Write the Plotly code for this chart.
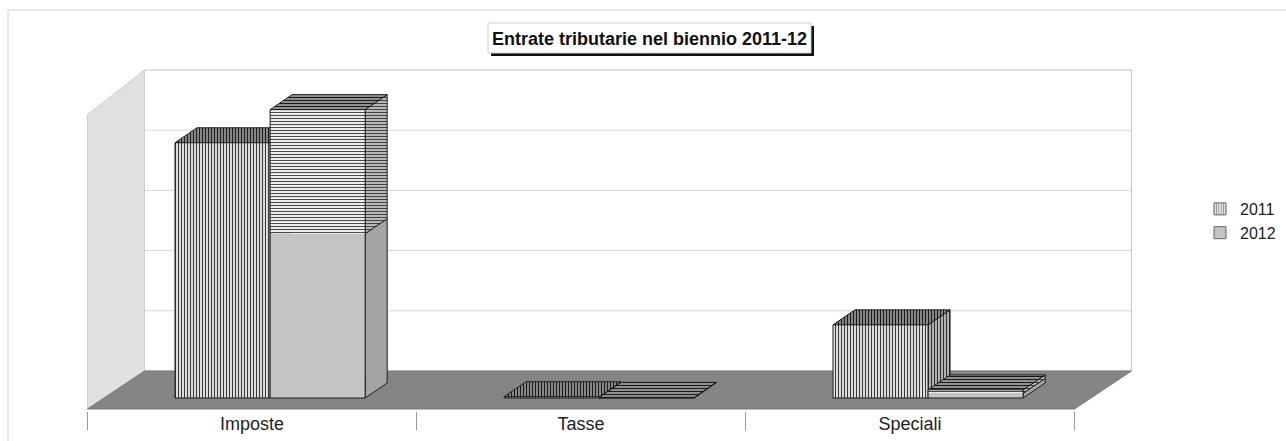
import plotly.graph_objects as go

# ---- data -------------------------------------------------------------
categories = ["Imposte", "Tasse", "Speciali"]
series_names = ["2011", "2012"]
values_2011 = [4240, 20, 1215]
values_2012 = [4790, 10, 135]

# ---- page / axes geometry ---------------------------------------------
W, H = 1286, 441
MARGIN_B = 30
PLOT_H = H - MARGIN_B
X_RANGE = [-0.766, 3.143]
Y_RANGE = [-216, 6611]
GRID_STEP = 1000

# oblique 3-D projection (in data units)
FLOOR_FRONT_Y = -183          # front edge of the floor
FLOOR_DEPTH = (0.1733, 631)   # shift from front edge to back wall
WALL_TOP_STEPS = 5            # back wall is 5 grid steps tall
BAR_W = 0.289
BAR_LEFT = [-0.234, -0.234 + 0.289]   # front-left corner offset per series
BAR_DEPTH = (0.0669, 249)
SPLIT_2012 = 0.57             # 2012 faces: plain below, ruled above

OUTLINE = "#1e1e1e"
FONT = "Liberation Sans, Arial"


def px_x(px):
    return px / W


def px_y(py):
    return (PLOT_H - py) / PLOT_H


fig = go.Figure()


def poly(xs, ys, fill, pattern=None, line=OUTLINE, lw=1):
    kw = dict(
        x=xs + [xs[0]], y=ys + [ys[0]], mode="lines", fill="toself",
        fillcolor=fill, line=dict(color=line, width=lw),
        hoverinfo="skip", showlegend=False,
    )
    if pattern is not None:
        kw["fillpattern"] = pattern
    fig.add_trace(go.Scatter(**kw))


def vlines(bg, fg="#3a3a3a", sol=0.36):
    return dict(shape="|", size=3, solidity=sol, fgcolor=fg, bgcolor=bg, fillmode="replace")


def hlines(bg, fg="#4a4a4a", sol=0.34):
    return dict(shape="-", size=3, solidity=sol, fgcolor=fg, bgcolor=bg, fillmode="replace")


# ---- walls and floor ---------------------------------------------------
fx0, fx1 = -0.5, 2.5
dxf, dyf = FLOOR_DEPTH
back_y0 = FLOOR_FRONT_Y + dyf
back_y1 = back_y0 + WALL_TOP_STEPS * GRID_STEP

shapes = []
# back wall
shapes.append(dict(type="rect", xref="x", yref="y", x0=fx0 + dxf, x1=fx1 + dxf,
                   y0=back_y0, y1=back_y1, fillcolor="white",
                   line=dict(color="#c4c4c4", width=1), layer="below"))
# gridlines on the back wall
for k in range(1, WALL_TOP_STEPS):
    gy = back_y0 + k * GRID_STEP
    shapes.append(dict(type="line", xref="x", yref="y", x0=fx0 + dxf, x1=fx1 + dxf,
                       y0=gy, y1=gy, line=dict(color="#d6d6d6", width=1), layer="below"))
# left side wall
shapes.append(dict(type="path", xref="x", yref="y",
                   path=f"M{fx0},{FLOOR_FRONT_Y} L{fx0 + dxf},{back_y0} L{fx0 + dxf},{back_y1} "
                        f"L{fx0},{back_y1 - dyf - 110} Z",
                   fillcolor="#e0e0e0", line=dict(color="#d0d0d0", width=1), layer="below"))
# floor
shapes.append(dict(type="path", xref="x", yref="y",
                   path=f"M{fx0},{FLOOR_FRONT_Y} L{fx1},{FLOOR_FRONT_Y} L{fx1 + dxf},{back_y0} "
                        f"L{fx0 + dxf},{back_y0} Z",
                   fillcolor="#858585", line=dict(color="#7a7a7a", width=1), layer="below"))

# ---- 3-D columns -------------------------------------------------------
dx, dy = BAR_DEPTH
for i, cat in enumerate(categories):
    for s, vals in enumerate([values_2011, values_2012]):
        v = vals[i]
        x0 = i + BAR_LEFT[s]
        x1 = x0 + BAR_W
        if s == 0:
            poly([x1, x1 + dx, x1 + dx, x1], [0, dy, v + dy, v], "#b0b0b0", vlines("#b4b4b4", "#333"))
            poly([x0, x1, x1 + dx, x0 + dx], [v, v, v + dy, v + dy], "#8c8c8c", vlines("#8c8c8c", "#1a1a1a"))
            poly([x0, x1, x1, x0], [0, 0, v, v], "#e2e2e2", vlines("#e4e4e4"))
        else:
            ys = v * SPLIT_2012
            # right side face
            poly([x1, x1 + dx, x1 + dx, x1], [0, dy, ys + dy, ys], "#a4a4a4")
            poly([x1, x1 + dx, x1 + dx, x1], [ys, ys + dy, v + dy, v], "#b8b8b8", hlines("#b8b8b8", "#444"))
            # top face
            poly([x0, x1, x1 + dx, x0 + dx], [v, v, v + dy, v + dy], "#909090", hlines("#909090", "#1a1a1a"))
            # front face
            poly([x0, x1, x1, x0], [0, 0, ys, ys], "#c4c4c4", lw=0)
            poly([x0, x1, x1, x0], [ys, ys, v, v], "#ececec", hlines("#ececec"), lw=0)
            poly([x0, x1, x1, x0], [0, 0, v, v], "rgba(0,0,0,0)")

# legend entries
fig.add_trace(go.Bar(x=[None], y=[None], name=series_names[0],
                     marker=dict(color="#e4e4e4", line=dict(color="#666", width=1),
                                 pattern=dict(shape="|", size=3, solidity=0.36,
                                              fgcolor="#444", bgcolor="#e4e4e4"))))
fig.add_trace(go.Bar(x=[None], y=[None], name=series_names[1],
                     marker=dict(color="#c4c4c4", line=dict(color="#666", width=1))))

# ---- chart frame and title --------------------------------------------
shapes.append(dict(type="rect", xref="paper", yref="paper",
                   x0=px_x(8), x1=px_x(1290), y0=px_y(445), y1=px_y(10),
                   line=dict(color="#d2d2d2", width=1), layer="below"))
shapes.append(dict(type="rect", xref="paper", yref="paper",
                   x0=px_x(491), x1=px_x(814), y0=px_y(56), y1=px_y(26),
                   fillcolor="#111", line=dict(width=0)))
shapes.append(dict(type="rect", xref="paper", yref="paper",
                   x0=px_x(488), x1=px_x(811), y0=px_y(53), y1=px_y(23),
                   fillcolor="white", line=dict(color="#cfcfcf", width=1)))

fig.add_annotation(text="<b>Entrate tributarie nel biennio 2011-12</b>",
                   xref="paper", yref="paper", x=px_x(649.5), y=px_y(38.5),
                   xanchor="center", yanchor="middle",
                   showarrow=False, font=dict(family=FONT, size=18, color="#111"))

fig.update_layout(
    width=W, height=H,
    margin=dict(l=0, r=0, t=0, b=MARGIN_B),
    paper_bgcolor="white", plot_bgcolor="rgba(0,0,0,0)",
    shapes=shapes,
    showlegend=True,
    legend=dict(x=px_x(1200), y=px_y(221), xanchor="left", yanchor="middle",
                font=dict(family=FONT, size=16, color="#222"),
                bgcolor="rgba(0,0,0,0)", tracegroupgap=0, itemwidth=30),
    xaxis=dict(type="linear", range=X_RANGE, showgrid=False, zeroline=False, showline=False,
               tickmode="array", tickvals=[0, 1, 2], ticktext=categories, ticks="",
               tickfont=dict(family=FONT, size=18, color="#222"),
               minor=dict(tickmode="array", tickvals=[-0.5, 0.5, 1.5, 2.5], ticks="outside",
                          ticklen=18, tickcolor="#9a9a9a", tickwidth=1, showgrid=False),
               fixedrange=True),
    yaxis=dict(range=Y_RANGE, visible=False, fixedrange=True),
)

fig.write_html("out.html")
